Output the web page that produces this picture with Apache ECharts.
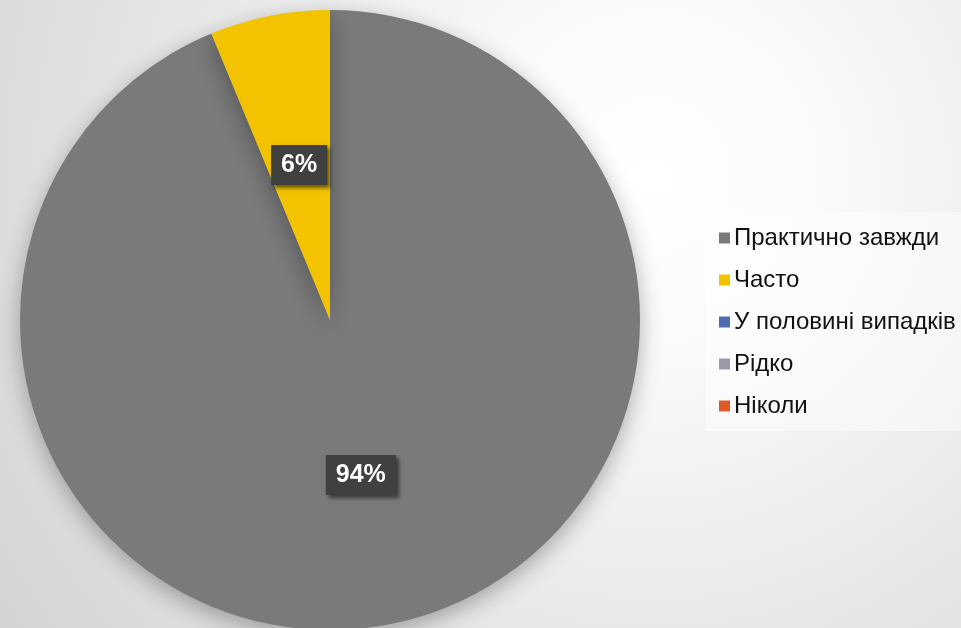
<!DOCTYPE html>
<html>
<head>
<meta charset="utf-8">
<script src="https://cdn.jsdelivr.net/npm/echarts@6/dist/echarts.min.js"></script>
<style>
html,body{margin:0;padding:0;}
#c{width:961px;height:628px;}
</style>
</head>
<body>
<div id="c"></div>
<script>
const categories = ['Практично завжди', 'Часто', 'У половині випадків', 'Рідко', 'Ніколи'];
const values = [93.75, 6.25, 0, 0, 0];
const colors = ['#7a7a7a', '#f3c300', '#4f6db5', '#9a9aac', '#e05a24'];

const chart = echarts.init(document.getElementById('c'), null, {renderer: 'canvas'});
const data = categories.map((name, i) => ({
  name: name,
  value: values[i],
  itemStyle: {color: colors[i]},
  label: {show: values[i] > 0}
}));

chart.setOption({
  backgroundColor: {
    type: 'radial', x: 0.68, y: 0.28, r: 1.35,
    colorStops: [
      {offset: 0, color: '#ffffff'},
      {offset: 0.2, color: '#fafafa'},
      {offset: 1, color: '#d0d0d0'}
    ]
  },
  animation: false,
  legend: {
    orient: 'vertical',
    left: 705,
    top: 212,
    padding: [13, 20, 12, 14],
    backgroundColor: 'rgba(255,255,255,0.45)',
    icon: 'rect',
    itemWidth: 11,
    itemHeight: 11,
    itemGap: 16,
    data: categories,
    textStyle: {
      fontFamily: 'Liberation Sans, Arial, sans-serif',
      fontSize: 24,
      color: '#111111',
      lineHeight: 26,
      padding: [0, 0, 0, -1]
    }
  },
  series: [{
    type: 'pie',
    center: [330, 320],
    radius: [0, 310],
    startAngle: 90,
    clockwise: true,
    minAngle: 0,
    avoidLabelOverlap: false,
    labelLine: {show: false},
    itemStyle: {
      borderWidth: 0,
      shadowColor: 'rgba(0,0,0,0.3)',
      shadowBlur: 22,
      shadowOffsetY: 7
    },
    label: {
      position: 'inside',
      formatter: p => Math.round(p.percent) + '%',
      color: '#ffffff',
      fontFamily: 'Liberation Sans, Arial, sans-serif',
      fontWeight: 'bold',
      fontSize: 25,
      backgroundColor: '#404040',
      padding: [8, 10, 7, 10],
      shadowColor: 'rgba(0,0,0,0.55)',
      shadowBlur: 4,
      shadowOffsetX: 3,
      shadowOffsetY: 3
    },
    emphasis: {disabled: true},
    data: data
  }]
});
</script>
</body>
</html>
